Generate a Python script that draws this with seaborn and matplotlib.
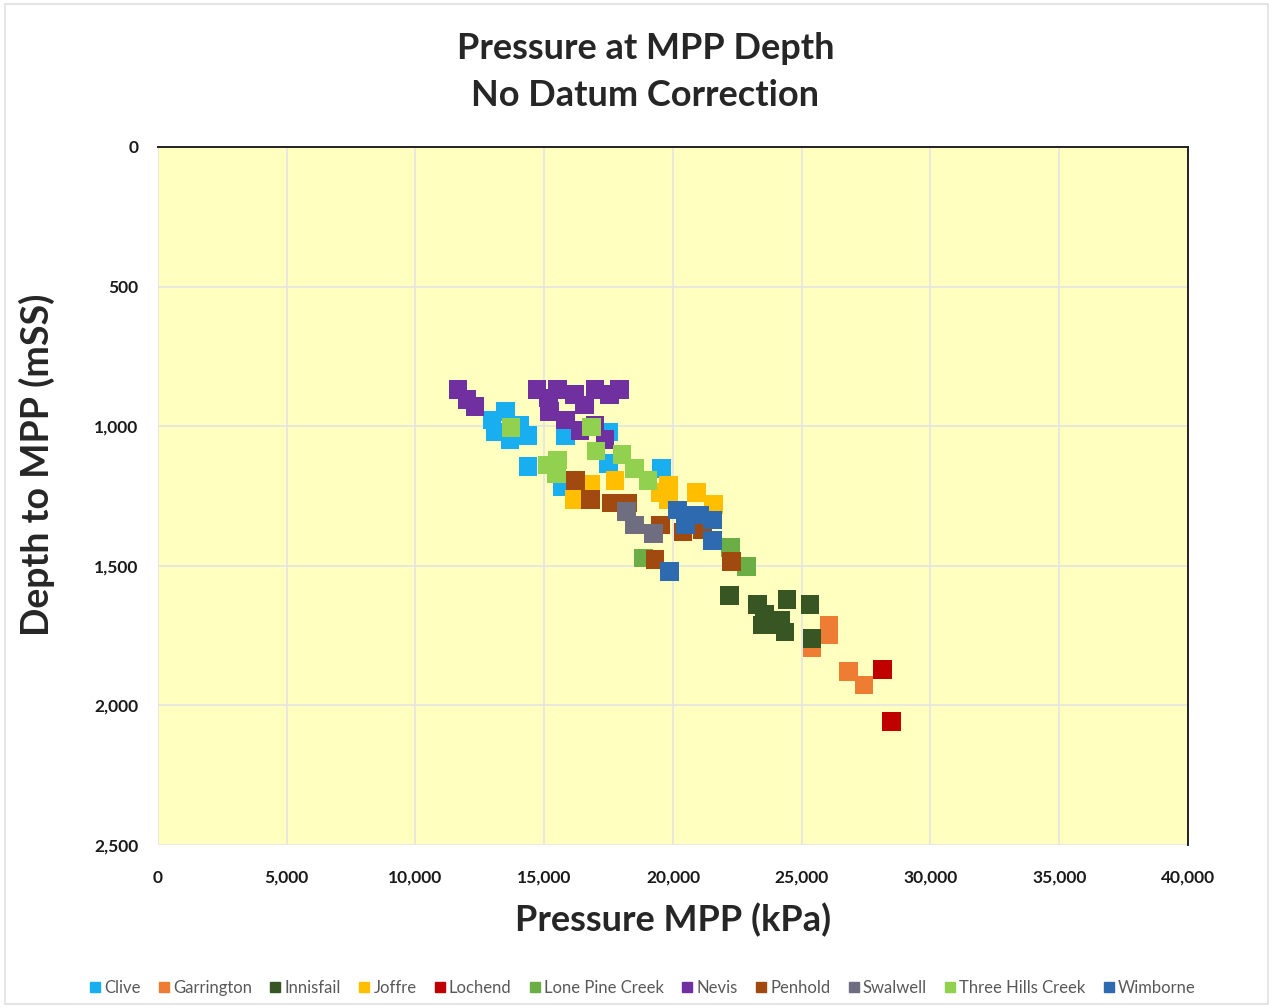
import matplotlib
matplotlib.use("Agg")
import matplotlib.pyplot as plt
import matplotlib.ticker as mticker
import seaborn as sns
import pandas as pd

# pressure (kPa) and depth (mSS) per field
clive_p = [12970, 13480, 14060, 14370, 13090, 13670, 14370, 15810, 17480, 17480, 19570, 15690]
clive_d = [978, 949, 996, 1032, 1021, 1049, 1143, 1032, 1021, 1135, 1150, 1218]
garrington_p = [26060, 26060, 25400, 26800, 27420]
garrington_d = [1712, 1748, 1794, 1877, 1927]
innisfail_p = [22210, 23300, 23570, 23770, 24160, 24350, 24430, 25320, 25400, 23460]
innisfail_d = [1605, 1640, 1676, 1712, 1694, 1737, 1622, 1640, 1759, 1712]
joffre_p = [16160, 16780, 17750, 19500, 19810, 19810, 20930, 21590]
joffre_d = [1264, 1207, 1196, 1239, 1211, 1264, 1236, 1282]
lochend_p = [28120, 28470]
lochend_d = [1873, 2059]
lone_pine_p = [18840, 22250, 22870]
lone_pine_d = [1472, 1433, 1504]
nevis_p = [11650, 12000, 12310, 14720, 15150, 15500, 16190, 16970, 17550, 17940,
           15220, 15810, 16390, 16970, 17360, 16580]
nevis_d = [870, 906, 931, 870, 899, 870, 888, 870, 888, 870,
           949, 978, 1014, 996, 1049, 924]
penhold_p = [16230, 16780, 17630, 18250, 19500, 20390, 21130, 19300, 22290]
penhold_d = [1196, 1264, 1275, 1275, 1354, 1379, 1372, 1479, 1486]
swalwell_p = [18210, 18490, 19260]
swalwell_d = [1307, 1354, 1383]
three_hills_p = [13710, 15110, 15530, 15460, 16850, 17010, 18020, 18520, 19030]
three_hills_d = [1006, 1139, 1121, 1171, 1003, 1089, 1103, 1150, 1193]
wimborne_p = [20190, 20660, 20470, 21050, 21520, 21520, 19850]
wimborne_d = [1300, 1318, 1354, 1318, 1336, 1408, 1522]

fields = ["Clive", "Garrington", "Innisfail", "Joffre", "Lochend", "Lone Pine Creek",
          "Nevis", "Penhold", "Swalwell", "Three Hills Creek", "Wimborne"]
pressures = [clive_p, garrington_p, innisfail_p, joffre_p, lochend_p, lone_pine_p,
             nevis_p, penhold_p, swalwell_p, three_hills_p, wimborne_p]
depths = [clive_d, garrington_d, innisfail_d, joffre_d, lochend_d, lone_pine_d,
          nevis_d, penhold_d, swalwell_d, three_hills_d, wimborne_d]
colors = ["#19AEEF", "#EE7D33", "#375623", "#FFBE00", "#C00000", "#6AAE45",
          "#7030A0", "#A04A10", "#6E6E80", "#92D050", "#2E6AB0"]

rows = []
for name, ps, ds in zip(fields, pressures, depths):
    for p, d in zip(ps, ds):
        rows.append({"field": name, "pressure": p, "depth": d})
df = pd.DataFrame(rows)

sns.set_style("white")
plt.rcParams["font.family"] = ["Lato", "DejaVu Sans"]

fig = plt.figure(figsize=(12.73, 10.08), dpi=100)
ax = fig.add_axes([0.1241, 0.1617, 0.8091, 0.6925])
ax.set_facecolor("#FFFFC0")

sns.scatterplot(data=df, x="pressure", y="depth", hue="field", hue_order=fields,
                palette=colors, marker="s", s=185, linewidth=0, ax=ax, legend=False,
                zorder=3)

ax.set_xlim(0, 40000)
ax.set_ylim(2500, 0)
ax.xaxis.set_major_locator(mticker.MultipleLocator(5000))
ax.yaxis.set_major_locator(mticker.MultipleLocator(500))
fmt = mticker.FuncFormatter(lambda v, pos: f"{int(v):,}")
ax.xaxis.set_major_formatter(fmt)
ax.yaxis.set_major_formatter(fmt)
ax.grid(True, color="#E4E4E4", linewidth=1.2, zorder=0)
ax.set_axisbelow(True)
ax.tick_params(axis="both", length=0, labelsize=12.5, colors="#1a1a1a")
ax.tick_params(axis="x", pad=18)
ax.tick_params(axis="y", pad=14)
for lab in ax.get_xticklabels() + ax.get_yticklabels():
    lab.set_fontweight("bold")

for side in ["left", "bottom"]:
    ax.spines[side].set_visible(False)
for side in ["top", "right"]:
    ax.spines[side].set_color("#222222")
    ax.spines[side].set_linewidth(1.4)

ax.set_xlabel("Pressure MPP (kPa)", fontsize=26, fontweight="bold", labelpad=12)
ax.set_ylabel("Depth to MPP (mSS)", fontsize=27, fontweight="bold")
ax.yaxis.set_label_coords(-0.1, 0.545)
fig.suptitle("Pressure at MPP Depth\nNo Datum Correction", fontsize=26,
             fontweight="bold", x=0.507, y=0.968, linespacing=1.5)

handles = [plt.Line2D([], [], marker="s", linestyle="", color=c, markersize=7)
           for c in colors]
fig.legend(handles, fields, loc="center", bbox_to_anchor=(0.505, 0.02), ncol=11,
           frameon=False, fontsize=12, handlelength=0.6, handletextpad=0.25,
           columnspacing=1.1, labelcolor="#595959")

fig.patches.append(plt.Rectangle((0.004, 0.004), 0.992, 0.992, transform=fig.transFigure,
                                 fill=False, edgecolor="#E0E0E0", linewidth=1.2))

fig.savefig("out.png", dpi=100, facecolor="white")
